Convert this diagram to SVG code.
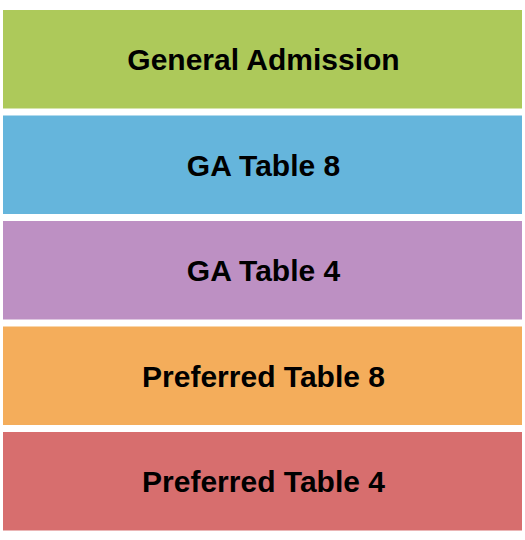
<svg xmlns="http://www.w3.org/2000/svg" width="525" height="540" viewBox="0 0 525 540">
<style>
.t{font-family:"Liberation Sans",Arial,sans-serif;font-weight:bold;font-size:30px;fill:#000;text-anchor:middle;dominant-baseline:central}
</style>
<rect width="525" height="540" fill="#fff"/>
<g id="general-admission"><rect x="3" y="10" width="519" height="98.5" fill="#adc95a"/><text class="t" x="263.5" y="59.5">General Admission</text></g>
<g id="ga-table-8"><rect x="3" y="115.5" width="519" height="98.5" fill="#65b5dc"/><text class="t" x="263.5" y="165">GA Table 8</text></g>
<g id="ga-table-4"><rect x="3" y="221" width="519" height="98.5" fill="#bd90c3"/><text class="t" x="263.5" y="270.5">GA Table 4</text></g>
<g id="preferred-table-8"><rect x="3" y="326.5" width="519" height="98.5" fill="#f4ad5b"/><text class="t" x="263.5" y="376">Preferred Table 8</text></g>
<g id="preferred-table-4"><rect x="3" y="432" width="519" height="98.5" fill="#d76e6e"/><text class="t" x="263.5" y="481.5">Preferred Table 4</text></g>
<g id="connectors"/>
</svg>
